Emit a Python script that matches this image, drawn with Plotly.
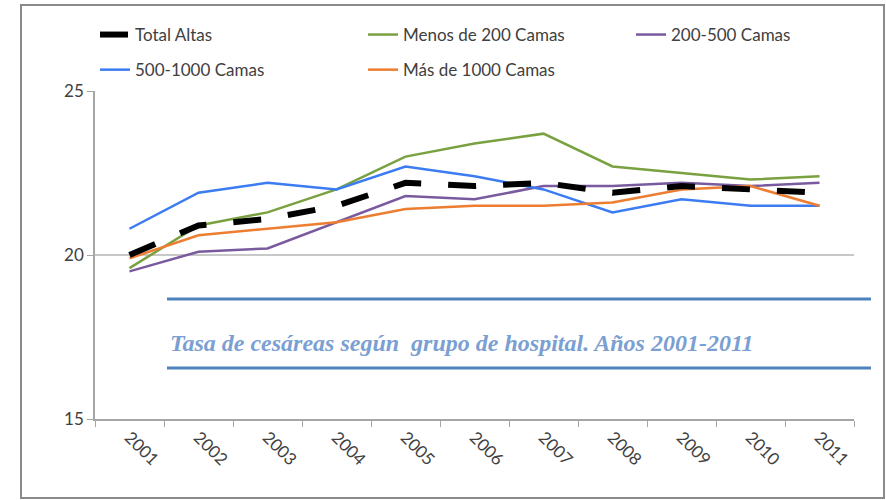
import plotly.graph_objects as go

years = ["2001", "2002", "2003", "2004", "2005", "2006", "2007", "2008", "2009", "2010", "2011"]
total_altas = [20.0, 20.9, 21.1, 21.5, 22.2, 22.1, 22.2, 21.9, 22.1, 22.0, 21.9]
menos_200 = [19.6, 20.9, 21.3, 22.0, 23.0, 23.4, 23.7, 22.7, 22.5, 22.3, 22.4]
c200_500 = [19.5, 20.1, 20.2, 21.0, 21.8, 21.7, 22.1, 22.1, 22.2, 22.1, 22.2]
c500_1000 = [20.8, 21.9, 22.2, 22.0, 22.7, 22.4, 22.0, 21.3, 21.7, 21.5, 21.5]
mas_1000 = [19.9, 20.6, 20.8, 21.0, 21.4, 21.5, 21.5, 21.6, 22.0, 22.1, 21.5]
y_ticks = [15, 20, 25]
title_text = "Tasa de cesáreas según  grupo de hospital. Años 2001-2011"

fig = go.Figure()

def add(name, vals, color, width, legend, rank, dash="solid"):
    fig.add_trace(go.Scatter(
        x=years, y=vals, mode="lines", name=name,
        line=dict(color=color, width=width, dash=dash),
        legend=legend, legendgroup=name, legendrank=rank,
    ))

add("Menos de 200 Camas", menos_200, "#79a140", 2.5, "legend2", 1)
add("200-500 Camas", c200_500, "#7a5a9e", 2.5, "legend3", 1)
add("500-1000 Camas", c500_1000, "#3b7cf3", 2.5, "legend", 2)
add("Más de 1000 Camas", mas_1000, "#ed7d31", 2.5, "legend2", 2)
add("Total Altas", total_altas, "#000000", 6, "legend", 1, dash="28px,27px")

leg_font = dict(family="Lato", size=17, color="#404040")
leg_common = dict(orientation="v", xref="container", yref="container", xanchor="left",
                  yanchor="top", font=leg_font, bgcolor="rgba(0,0,0,0)",
                  tracegroupgap=10, itemwidth=30)

pl_x0, pl_w = 95, 759
pl_y0, pl_h = 419, 328

def px(x):
    return (x - pl_x0) / pl_w

def py(y):
    return (pl_y0 - y) / pl_h

shapes = [
    dict(type="rect", xref="paper", yref="paper", x0=px(21), x1=px(884), y0=py(498), y1=py(5),
         line=dict(color="#8a8a8a", width=2), fillcolor="rgba(0,0,0,0)", layer="below"),
    dict(type="line", xref="paper", yref="paper", x0=px(167), x1=px(871), y0=py(299), y1=py(299),
         line=dict(color="#4f81bd", width=3)),
    dict(type="line", xref="paper", yref="paper", x0=px(167), x1=px(871), y0=py(368), y1=py(368),
         line=dict(color="#4f81bd", width=3)),
]

fig.update_layout(
    width=886, height=500,
    margin=dict(l=95, r=32, t=91, b=81, autoexpand=False),
    paper_bgcolor="white", plot_bgcolor="white",
    font=dict(family="Lato", color="#404040"),
    showlegend=True,
    legend=dict(x=95 / 886, y=1 - 17 / 500, **leg_common),
    legend2=dict(x=363 / 886, y=1 - 17 / 500, **leg_common),
    legend3=dict(x=631 / 886, y=1 - 17 / 500, **leg_common),
    xaxis=dict(
        type="category", range=[-0.5, 10.5], tickangle=45, tickson="boundaries",
        ticks="outside", ticklen=6, tickcolor="#a6a6a6",
        showline=True, linecolor="#a6a6a6", linewidth=1.5, showgrid=False,
        tickfont=dict(family="Lato", size=17, color="#404040"), fixedrange=True,
        automargin=False,
    ),
    yaxis=dict(
        range=[15, 25], tickvals=y_ticks, ticks="outside", ticklen=6, tickcolor="#a6a6a6",
        showline=True, linecolor="#a6a6a6", linewidth=1.5, showgrid=True, gridcolor="#c8c8c8",
        gridwidth=1.5, zeroline=False,
        tickfont=dict(family="Lato", size=17, color="#404040"), fixedrange=True,
        automargin=False,
    ),
    shapes=shapes,
    annotations=[dict(
        xref="paper", yref="paper", x=px(168), y=py(343), xanchor="left", yanchor="middle",
        text="<b><i>" + title_text + "</i></b>", showarrow=False,
        font=dict(family="Liberation Serif", size=24, color="#7b9fd2"),
    )],
)

fig.write_html("out.html", config={"displayModeBar": False},
               post_script="document.body.style.margin='0';")
